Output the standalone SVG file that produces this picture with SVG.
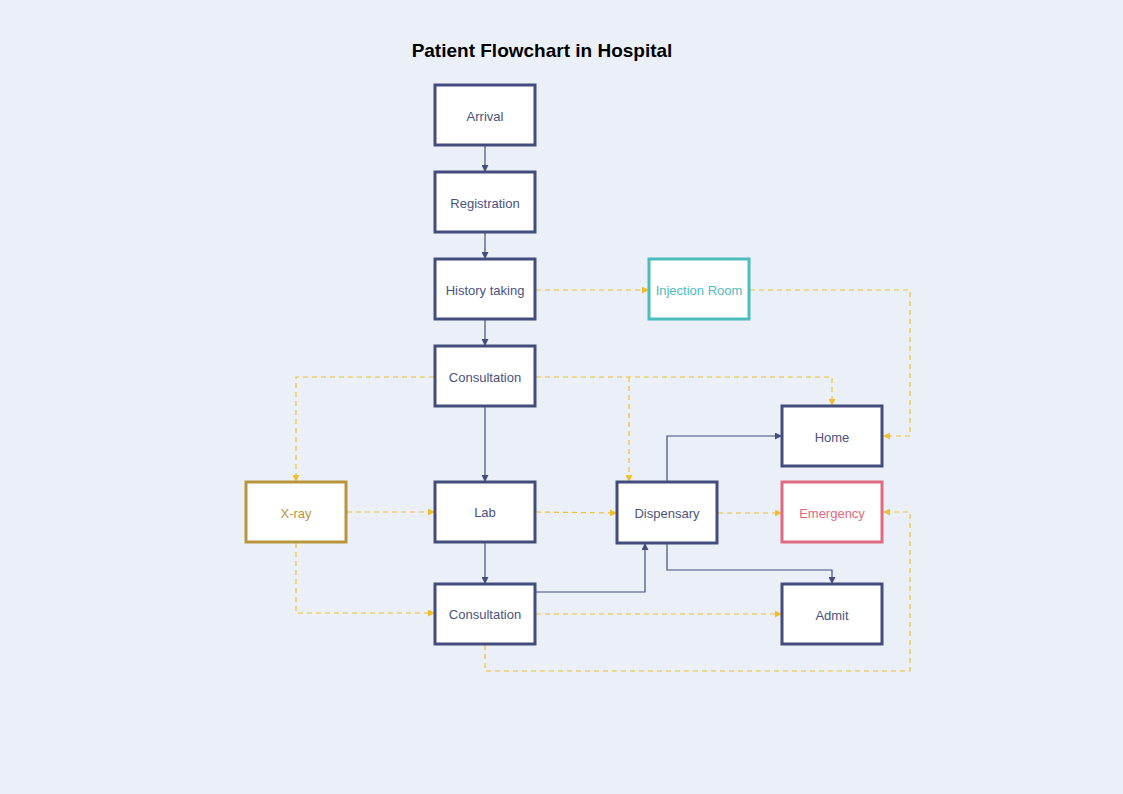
<svg xmlns="http://www.w3.org/2000/svg" width="1123" height="794" viewBox="0 0 1123 794">
<style>
.box{fill:#ffffff;stroke-width:3}
.n{stroke:#434C7C}
.t{font-family:"Liberation Sans",Arial,sans-serif;font-size:13px;text-anchor:middle;dominant-baseline:central}
.tn{fill:#4A5282}
.s{fill:none;stroke:#434C7C;stroke-width:1.2}
.d{fill:none;stroke:#F2BE2E;stroke-width:1.2;stroke-dasharray:5 4}
</style>
<defs>
<marker id="an" viewBox="0 0 10 10" refX="10" refY="5" markerWidth="7" markerHeight="7" markerUnits="userSpaceOnUse" orient="auto"><path d="M0,0 L10,5 L0,10 z" fill="#434C7C"/></marker>
<marker id="ay" viewBox="0 0 10 10" refX="10" refY="5" markerWidth="7" markerHeight="7" markerUnits="userSpaceOnUse" orient="auto"><path d="M0,0 L10,5 L0,10 z" fill="#F2BE2E"/></marker>
</defs>
<rect x="0" y="0" width="1123" height="794" fill="#EBF0F8"/>
<text x="542" y="57" font-family="'Liberation Sans',Arial,sans-serif" font-size="19" font-weight="bold" text-anchor="middle" fill="#000000">Patient Flowchart in Hospital</text>
<g id="connectors">
<path class="s" d="M485,146 L485,172" marker-end="url(#an)"/>
<path class="s" d="M485,233 L485,259" marker-end="url(#an)"/>
<path class="s" d="M485,320 L485,346" marker-end="url(#an)"/>
<path class="s" d="M485,407 L485,482" marker-end="url(#an)"/>
<path class="s" d="M485,543 L485,584" marker-end="url(#an)"/>
<path class="s" d="M667,482 L667,436 L782,436" marker-end="url(#an)"/>
<path class="s" d="M667,543 L667,570 L832,570 L832,584" marker-end="url(#an)"/>
<path class="s" d="M536,592 L645,592 L645,543" marker-end="url(#an)"/>
<path class="d" d="M536,290 L649,290" marker-end="url(#ay)"/>
<path class="d" d="M750,290 L910,290 L910,436 L883,436" marker-end="url(#ay)"/>
<path class="d" d="M434,377 L296,377 L296,482" marker-end="url(#ay)"/>
<path class="d" d="M536,377 L832,377 L832,406" marker-end="url(#ay)"/>
<path class="d" d="M629,377 L629,482" marker-end="url(#ay)"/>
<path class="d" d="M347,512 L435,512" marker-end="url(#ay)"/>
<path class="d" d="M296,543 L296,613 L435,613" marker-end="url(#ay)"/>
<path class="d" d="M536,512 L617,513" marker-end="url(#ay)"/>
<path class="d" d="M718,513 L782,513" marker-end="url(#ay)"/>
<path class="d" d="M536,614 L782,614" marker-end="url(#ay)"/>
<path class="d" d="M485,645 L485,671 L910,671 L910,512 L883,512" marker-end="url(#ay)"/>
</g>
<g id="arrival"><rect class="box n" x="435" y="85" width="100" height="60"/><text class="t tn" x="485" y="116">Arrival</text></g>
<g id="registration"><rect class="box n" x="435" y="172" width="100" height="60"/><text class="t tn" x="485" y="203">Registration</text></g>
<g id="history"><rect class="box n" x="435" y="259" width="100" height="60"/><text class="t tn" x="485" y="290">History taking</text></g>
<g id="consultation1"><rect class="box n" x="435" y="346" width="100" height="60"/><text class="t tn" x="485" y="377">Consultation</text></g>
<g id="lab"><rect class="box n" x="435" y="482" width="100" height="60"/><text class="t tn" x="485" y="512">Lab</text></g>
<g id="consultation2"><rect class="box n" x="435" y="584" width="100" height="60"/><text class="t tn" x="485" y="614">Consultation</text></g>
<g id="xray"><rect class="box" stroke="#B8953D" x="246" y="482" width="100" height="60"/><text class="t" fill="#B8953D" x="296" y="513">X-ray</text></g>
<g id="injection"><rect class="box" stroke="#4BBDBD" x="649" y="259" width="100" height="60"/><text class="t" fill="#4BBDBD" x="699" y="290">Injection Room</text></g>
<g id="dispensary"><rect class="box n" x="617" y="482" width="100" height="61"/><text class="t tn" x="667" y="513">Dispensary</text></g>
<g id="home"><rect class="box n" x="782" y="406" width="100" height="60"/><text class="t tn" x="832" y="437">Home</text></g>
<g id="emergency"><rect class="box" stroke="#E06A82" x="782" y="482" width="100" height="60"/><text class="t" fill="#E06A82" x="832" y="513">Emergency</text></g>
<g id="admit"><rect class="box n" x="782" y="584" width="100" height="60"/><text class="t tn" x="832" y="615">Admit</text></g>
</svg>
